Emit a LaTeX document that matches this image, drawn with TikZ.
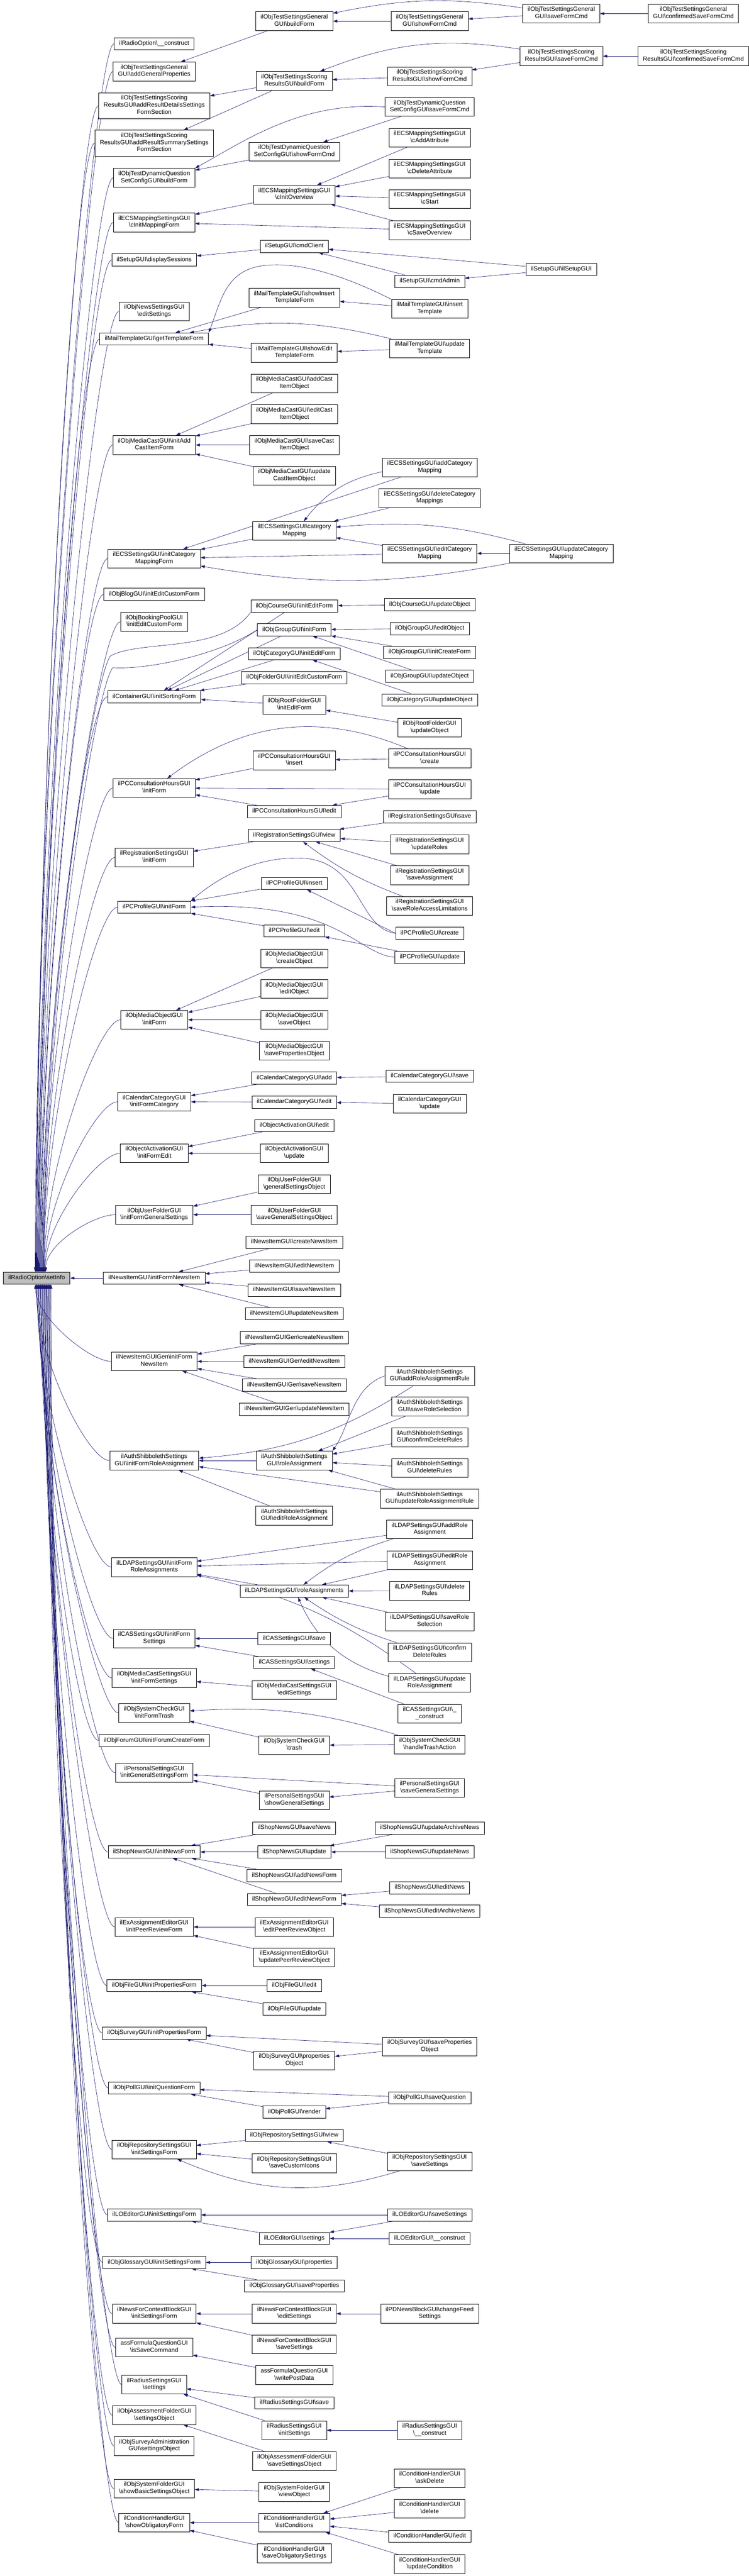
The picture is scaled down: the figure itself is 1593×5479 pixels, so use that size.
\documentclass[tikz,border=0pt]{standalone}
\usepackage{fontspec}
\setmainfont{Liberation Sans}
\usetikzlibrary{arrows.meta}

\definecolor{callblue}{RGB}{25,25,112}
\definecolor{rootgray}{RGB}{191,191,191}
\newcommand{\bsl}{\textbackslash}
\newcommand{\brk}{\hfill\\}
\pgfdeclarelayer{edges}
\pgfsetlayers{edges,main}

\begin{document}
\begin{tikzpicture}
[x=1pt,y=-1pt,->,>={Triangle[length=9pt,width=6pt]},
 every node/.style={rectangle,draw=black,fill=white,line width=0.8pt,align=center,
   font=\fontsize{13}{15}\selectfont,inner xsep=10.5pt,inner ysep=5.5pt,
   execute at begin node=\strut,execute at end node=\strut},
 rootfn/.style={fill=rootgray},
 call/.style={draw=callblue,line width=0.7pt}]
\useasboundingbox (0,0) rectangle (1593,5479);

  \node[rootfn] (root) at (78,2718.5) {ilRadioOption\bsl{}setInfo};

  \node (c1a)  at (328,93)     {ilRadioOption\bsl\_\_construct};
  \node (c1b)  at (328,152)    {ilObjTestSettingsGeneral\brk GUI\bsl{}addGeneralProperties};
  \node (c1c)  at (328,225)    {ilObjTestSettingsScoring\brk ResultsGUI\bsl{}addResultDetailsSettings\\FormSection};
  \node (c1d)  at (328,304.5)  {ilObjTestSettingsScoring\brk ResultsGUI\bsl{}addResultSummarySettings\\FormSection};
  \node (c1e)  at (328,378)    {ilObjTestDynamicQuestion\brk SetConfigGUI\bsl{}buildForm};
  \node (c1f)  at (328,473)    {ilECSMappingSettingsGUI\brk\bsl{}cInitMappingForm};
  \node (c1g)  at (328,553)    {ilSetupGUI\bsl{}displaySessions};
  \node (c1h)  at (328,662.5)  {ilObjNewsSettingsGUI\brk\bsl{}editSettings};
  \node (c1i)  at (328,721)    {ilMailTemplateGUI\bsl{}getTemplateForm};
  \node (c1j)  at (328,946.5)  {ilObjMediaCastGUI\bsl{}initAdd\brk CastItemForm};
  \node (c1k)  at (328,1188)   {ilECSSettingsGUI\bsl{}initCategory\brk MappingForm};
  \node (c1l)  at (328,1264)   {ilObjBlogGUI\bsl{}initEditCustomForm};
  \node (c1m)  at (328,1322.5) {ilObjBookingPoolGUI\brk\bsl{}initEditCustomForm};
  \node (c1n)  at (328,1482)   {ilContainerGUI\bsl{}initSortingForm};
  \node (c1o)  at (328,1676)   {ilPCConsultationHoursGUI\brk\bsl{}initForm};
  \node (c1p)  at (328,1823.5) {ilRegistrationSettingsGUI\brk\bsl{}initForm};
  \node (c1q)  at (328,1929.5) {ilPCProfileGUI\bsl{}initForm};
  \node (c1r)  at (328,2169)   {ilObjMediaObjectGUI\brk\bsl{}initForm};
  \node (c1s)  at (328,2343.5) {ilCalendarCategoryGUI\brk\bsl{}initFormCategory};
  \node (c1t)  at (328,2453)   {ilObjectActivationGUI\brk\bsl{}initFormEdit};
  \node (c1u)  at (328,2583.5) {ilObjUserFolderGUI\brk\bsl{}initFormGeneralSettings};
  \node (c1v)  at (328,2718.5) {ilNewsItemGUI\bsl{}initFormNewsItem};
  \node (c1w)  at (328,2895.5) {ilNewsItemGUIGen\bsl{}initForm\brk NewsItem};
  \node (c1x)  at (328,3106.5) {ilAuthShibbolethSettings\brk GUI\bsl{}initFormRoleAssignment};
  \node (c1y)  at (328,3333)   {ilLDAPSettingsGUI\bsl{}initForm\brk RoleAssignments};
  \node (c1z)  at (328,3485)   {ilCASSettingsGUI\bsl{}initForm\brk Settings};
  \node (c1aa) at (328,3569)   {ilObjMediaCastSettingsGUI\brk\bsl{}initFormSettings};
  \node (c1ab) at (328,3643.5) {ilObjSystemCheckGUI\brk\bsl{}initFormTrash};
  \node (c1ac) at (328,3702)   {ilObjForumGUI\bsl{}initForumCreateForm};
  \node (c1ad) at (328,3770.5) {ilPersonalSettingsGUI\brk\bsl{}initGeneralSettingsForm};
  \node (c1ae) at (328,3939)   {ilShopNewsGUI\bsl{}initNewsForm};
  \node (c1af) at (328,4098.5) {ilExAssignmentEditorGUI\brk\bsl{}initPeerReviewForm};
  \node (c1ag) at (328,4223)   {ilObjFileGUI\bsl{}initPropertiesForm};
  \node (c1ah) at (328,4324)   {ilObjSurveyGUI\bsl{}initPropertiesForm};
  \node (c1ai) at (328,4441)   {ilObjPollGUI\bsl{}initQuestionForm};
  \node (c1aj) at (328,4572)   {ilObjRepositorySettingsGUI\brk\bsl{}initSettingsForm};
  \node (c1ak) at (328,4711)   {ilLOEditorGUI\bsl{}initSettingsForm};
  \node (c1al) at (328,4812)   {ilObjGlossaryGUI\bsl{}initSettingsForm};
  \node (c1am) at (328,4921)   {ilNewsForContextBlockGUI\brk\bsl{}initSettingsForm};
  \node (c1an) at (328,4993)   {assFormulaQuestionGUI\brk\bsl{}isSaveCommand};
  \node (c1ao) at (328,5072)   {ilRadiusSettingsGUI\brk\bsl{}settings};
  \node (c1ap) at (328,5137)   {ilObjAssessmentFolderGUI\brk\bsl{}settingsObject};
  \node (c1aq) at (328,5202.5) {ilObjSurveyAdministration\brk GUI\bsl{}settingsObject};
  \node (c1ar) at (328,5293)   {ilObjSystemFolderGUI\brk\bsl{}showBasicSettingsObject};
  \node (c1as) at (328,5365.5) {ilConditionHandlerGUI\brk\bsl{}showObligatoryForm};

  \node (c2a)  at (626,45)     {ilObjTestSettingsGeneral\brk GUI\bsl{}buildForm};
  \node (c2b)  at (626,172)    {ilObjTestSettingsScoring\brk ResultsGUI\bsl{}buildForm};
  \node (c2c)  at (626,322.5)  {ilObjTestDynamicQuestion\brk SetConfigGUI\bsl{}showFormCmd};
  \node (c2d)  at (626,414)    {ilECSMappingSettingsGUI\brk\bsl{}cInitOverview};
  \node (c2e)  at (626,524)    {ilSetupGUI\bsl{}cmdClient};
  \node (c2f)  at (626,633)    {ilMailTemplateGUI\bsl{}showInsert\brk TemplateForm};
  \node (c2g)  at (626,750.5)  {ilMailTemplateGUI\bsl{}showEdit\brk TemplateForm};
  \node (c2h)  at (626,815.5)  {ilObjMediaCastGUI\bsl{}addCast\brk ItemObject};
  \node (c2i)  at (626,881)    {ilObjMediaCastGUI\bsl{}editCast\brk ItemObject};
  \node (c2j)  at (626,946.5)  {ilObjMediaCastGUI\bsl{}saveCast\brk ItemObject};
  \node (c2k)  at (626,1011.5) {ilObjMediaCastGUI\bsl{}update\brk CastItemObject};
  \node (c2l)  at (626,1129)   {ilECSSettingsGUI\bsl{}category\brk Mapping};
  \node (c2m)  at (626,1289)   {ilObjCourseGUI\bsl{}initEditForm};
  \node (c2n)  at (626,1339.5) {ilObjGroupGUI\bsl{}initForm};
  \node (c2o)  at (626,1390.5) {ilObjCategoryGUI\bsl{}initEditForm};
  \node (c2p)  at (626,1441)   {ilObjFolderGUI\bsl{}initEditCustomForm};
  \node (c2q)  at (626,1499.5) {ilObjRootFolderGUI\brk\bsl{}initEditForm};
  \node (c2r)  at (626,1617)   {ilPCConsultationHoursGUI\brk\bsl{}insert};
  \node (c2s)  at (626,1726)   {ilPCConsultationHoursGUI\bsl{}edit};
  \node (c2t)  at (626,1777)   {ilRegistrationSettingsGUI\bsl{}view};
  \node (c2u)  at (626,1879)   {ilPCProfileGUI\bsl{}insert};
  \node (c2v)  at (626,1980)   {ilPCProfileGUI\bsl{}edit};
  \node (c2w)  at (626,2038.5) {ilObjMediaObjectGUI\brk\bsl{}createObject};
  \node (c2x)  at (626,2103.5) {ilObjMediaObjectGUI\brk\bsl{}editObject};
  \node (c2y)  at (626,2169)   {ilObjMediaObjectGUI\brk\bsl{}saveObject};
  \node (c2z)  at (626,2234.5) {ilObjMediaObjectGUI\brk\bsl{}savePropertiesObject};
  \node (c2aa) at (626,2293)   {ilCalendarCategoryGUI\bsl{}add};
  \node (c2ab) at (626,2344)   {ilCalendarCategoryGUI\bsl{}edit};
  \node (c2ac) at (626,2394)   {ilObjectActivationGUI\bsl{}edit};
  \node (c2ad) at (626,2453)   {ilObjectActivationGUI\brk\bsl{}update};
  \node (c2ae) at (626,2518.5) {ilObjUserFolderGUI\brk\bsl{}generalSettingsObject};
  \node (c2af) at (626,2583.5) {ilObjUserFolderGUI\brk\bsl{}saveGeneralSettingsObject};
  \node (c2ag) at (626,2642)   {ilNewsItemGUI\bsl{}createNewsItem};
  \node (c2ah) at (626,2693)   {ilNewsItemGUI\bsl{}editNewsItem};
  \node (c2ai) at (626,2744)   {ilNewsItemGUI\bsl{}saveNewsItem};
  \node (c2aj) at (626,2794)   {ilNewsItemGUI\bsl{}updateNewsItem};
  \node (c2ak) at (626,2845)   {ilNewsItemGUIGen\bsl{}createNewsItem};
  \node (c2al) at (626,2896)   {ilNewsItemGUIGen\bsl{}editNewsItem};
  \node (c2am) at (626,2946)   {ilNewsItemGUIGen\bsl{}saveNewsItem};
  \node (c2an) at (626,2997)   {ilNewsItemGUIGen\bsl{}updateNewsItem};
  \node (c2ao) at (626,3106.5) {ilAuthShibbolethSettings\brk GUI\bsl{}roleAssignment};
  \node (c2ap) at (626,3223.5) {ilAuthShibbolethSettings\brk GUI\bsl{}editRoleAssignment};
  \node (c2aq) at (626,3384)   {ilLDAPSettingsGUI\bsl{}roleAssignments};
  \node (c2ar) at (626,3485)   {ilCASSettingsGUI\bsl{}save};
  \node (c2as) at (626,3536)   {ilCASSettingsGUI\bsl{}settings};
  \node (c2at) at (626,3594.5) {ilObjMediaCastSettingsGUI\brk\bsl{}editSettings};
  \node (c2au) at (626,3712)   {ilObjSystemCheckGUI\brk\bsl{}trash};
  \node (c2av) at (626,3829)   {ilPersonalSettingsGUI\brk\bsl{}showGeneralSettings};
  \node (c2aw) at (626,3888)   {ilShopNewsGUI\bsl{}saveNews};
  \node (c2ax) at (626,3939)   {ilShopNewsGUI\bsl{}update};
  \node (c2ay) at (626,3989)   {ilShopNewsGUI\bsl{}addNewsForm};
  \node (c2az) at (626,4040)   {ilShopNewsGUI\bsl{}editNewsForm};
  \node (c2ba) at (626,4098.5) {ilExAssignmentEditorGUI\brk\bsl{}editPeerReviewObject};
  \node (c2bb) at (626,4163.5) {ilExAssignmentEditorGUI\brk\bsl{}updatePeerReviewObject};
  \node (c2bc) at (626,4223)   {ilObjFileGUI\bsl{}edit};
  \node (c2bd) at (626,4273)   {ilObjFileGUI\bsl{}update};
  \node (c2be) at (626,4382.5) {ilObjSurveyGUI\bsl{}properties\brk Object};
  \node (c2bf) at (626,4492)   {ilObjPollGUI\bsl{}render};
  \node (c2bg) at (626,4542)   {ilObjRepositorySettingsGUI\bsl{}view};
  \node (c2bh) at (626,4601)   {ilObjRepositorySettingsGUI\brk\bsl{}saveCustomIcons};
  \node (c2bi) at (626,4761)   {ilLOEditorGUI\bsl{}settings};
  \node (c2bj) at (626,4812)   {ilObjGlossaryGUI\bsl{}properties};
  \node (c2bk) at (626,4862)   {ilObjGlossaryGUI\bsl{}saveProperties};
  \node (c2bl) at (626,4921)   {ilNewsForContextBlockGUI\brk\bsl{}editSettings};
  \node (c2bm) at (626,4986.5) {ilNewsForContextBlockGUI\brk\bsl{}saveSettings};
  \node (c2bn) at (626,5051.5) {assFormulaQuestionGUI\brk\bsl{}writePostData};
  \node (c2bo) at (626,5110.5) {ilRadiusSettingsGUI\bsl{}save};
  \node (c2bp) at (626,5169)   {ilRadiusSettingsGUI\brk\bsl{}initSettings};
  \node (c2bq) at (626,5234.5) {ilObjAssessmentFolderGUI\brk\bsl{}saveSettingsObject};
  \node (c2br) at (626,5300)   {ilObjSystemFolderGUI\brk\bsl{}viewObject};
  \node (c2bs) at (626,5365.5) {ilConditionHandlerGUI\brk\bsl{}listConditions};
  \node (c2bt) at (626,5430.5) {ilConditionHandlerGUI\brk\bsl{}saveObligatorySettings};

  \node (c3a)  at (914,45)     {ilObjTestSettingsGeneral\brk GUI\bsl{}showFormCmd};
  \node (c3b)  at (914,162.5)  {ilObjTestSettingsScoring\brk ResultsGUI\bsl{}showFormCmd};
  \node (c3c)  at (914,227.5)  {ilObjTestDynamicQuestion\brk SetConfigGUI\bsl{}saveFormCmd};
  \node (c3d)  at (914,293)    {ilECSMappingSettingsGUI\brk\bsl{}cAddAttribute};
  \node (c3e)  at (914,358.5)  {ilECSMappingSettingsGUI\brk\bsl{}cDeleteAttribute};
  \node (c3f)  at (914,423.5)  {ilECSMappingSettingsGUI\brk\bsl{}cStart};
  \node (c3g)  at (914,489.5)  {ilECSMappingSettingsGUI\brk\bsl{}cSaveOverview};
  \node (c3h)  at (914,598.5)  {ilSetupGUI\bsl{}cmdAdmin};
  \node (c3i)  at (914,657)    {ilMailTemplateGUI\bsl{}insert\brk Template};
  \node (c3j)  at (914,741)    {ilMailTemplateGUI\bsl{}update\brk Template};
  \node (c3k)  at (914,994.5)  {ilECSSettingsGUI\bsl{}addCategory\brk Mapping};
  \node (c3l)  at (914,1059.5) {ilECSSettingsGUI\bsl{}deleteCategory\brk Mappings};
  \node (c3m)  at (914,1177)   {ilECSSettingsGUI\bsl{}editCategory\brk Mapping};
  \node (c3n)  at (914,1286)   {ilObjCourseGUI\bsl{}updateObject};
  \node (c3o)  at (914,1337)   {ilObjGroupGUI\bsl{}editObject};
  \node (c3p)  at (914,1387.5) {ilObjGroupGUI\bsl{}initCreateForm};
  \node (c3q)  at (914,1438)   {ilObjGroupGUI\bsl{}updateObject};
  \node (c3r)  at (914,1489)   {ilObjCategoryGUI\bsl{}updateObject};
  \node (c3s)  at (914,1547.5) {ilObjRootFolderGUI\brk\bsl{}updateObject};
  \node (c3t)  at (914,1613)   {ilPCConsultationHoursGUI\brk\bsl{}create};
  \node (c3u)  at (914,1678.5) {ilPCConsultationHoursGUI\brk\bsl{}update};
  \node (c3v)  at (914,1737)   {ilRegistrationSettingsGUI\bsl{}save};
  \node (c3w)  at (914,1796)   {ilRegistrationSettingsGUI\brk\bsl{}updateRoles};
  \node (c3x)  at (914,1861.5) {ilRegistrationSettingsGUI\brk\bsl{}saveAssignment};
  \node (c3y)  at (914,1926.5) {ilRegistrationSettingsGUI\brk\bsl{}saveRoleAccessLimitations};
  \node (c3z)  at (914,1985)   {ilPCProfileGUI\bsl{}create};
  \node (c3aa) at (914,2036)   {ilPCProfileGUI\bsl{}update};
  \node (c3ab) at (914,2289)   {ilCalendarCategoryGUI\bsl{}save};
  \node (c3ac) at (914,2347.5) {ilCalendarCategoryGUI\brk\bsl{}update};
  \node (c3ad) at (914,2926.5) {ilAuthShibbolethSettings\brk GUI\bsl{}addRoleAssignmentRule};
  \node (c3ae) at (914,2991.5) {ilAuthShibbolethSettings\brk GUI\bsl{}saveRoleSelection};
  \node (c3af) at (914,3057)   {ilAuthShibbolethSettings\brk GUI\bsl{}confirmDeleteRules};
  \node (c3ag) at (914,3122.5) {ilAuthShibbolethSettings\brk GUI\bsl{}deleteRules};
  \node (c3ah) at (914,3187.5) {ilAuthShibbolethSettings\brk GUI\bsl{}updateRoleAssignmentRule};
  \node (c3ai) at (914,3253)   {ilLDAPSettingsGUI\bsl{}addRole\brk Assignment};
  \node (c3aj) at (914,3318.5) {ilLDAPSettingsGUI\bsl{}editRole\brk Assignment};
  \node (c3ak) at (914,3383.5) {ilLDAPSettingsGUI\bsl{}delete\brk Rules};
  \node (c3al) at (914,3449)   {ilLDAPSettingsGUI\bsl{}saveRole\brk Selection};
  \node (c3am) at (914,3514.5) {ilLDAPSettingsGUI\bsl{}confirm\brk DeleteRules};
  \node (c3an) at (914,3579.5) {ilLDAPSettingsGUI\bsl{}update\brk RoleAssignment};
  \node (c3ao) at (914,3645)   {ilCASSettingsGUI\bsl\_\brk\_construct};
  \node (c3ap) at (914,3710.5) {ilObjSystemCheckGUI\brk\bsl{}handleTrashAction};
  \node (c3aq) at (914,3802.5) {ilPersonalSettingsGUI\brk\bsl{}saveGeneralSettings};
  \node (c3ar) at (914,3888)   {ilShopNewsGUI\bsl{}updateArchiveNews};
  \node (c3as) at (914,3939)   {ilShopNewsGUI\bsl{}updateNews};
  \node (c3at) at (914,4015)   {ilShopNewsGUI\bsl{}editNews};
  \node (c3au) at (914,4065)   {ilShopNewsGUI\bsl{}editArchiveNews};
  \node (c3av) at (914,4353)   {ilObjSurveyGUI\bsl{}saveProperties\brk Object};
  \node (c3aw) at (914,4462)   {ilObjPollGUI\bsl{}saveQuestion};
  \node (c3ax) at (914,4597)   {ilObjRepositorySettingsGUI\brk\bsl{}saveSettings};
  \node (c3ay) at (914,4711)   {ilLOEditorGUI\bsl{}saveSettings};
  \node (c3az) at (914,4761)   {ilLOEditorGUI\bsl\_\_construct};
  \node (c3ba) at (914,4921)   {ilPDNewsBlockGUI\bsl{}changeFeed\brk Settings};
  \node (c3bb) at (914,5169)   {ilRadiusSettingsGUI\brk\bsl\_\_construct};
  \node (c3bc) at (914,5271)   {ilConditionHandlerGUI\brk\bsl{}askDelete};
  \node (c3bd) at (914,5336)   {ilConditionHandlerGUI\brk\bsl{}delete};
  \node (c3be) at (914,5394.5) {ilConditionHandlerGUI\bsl{}edit};
  \node (c3bf) at (914,5453.5) {ilConditionHandlerGUI\brk\bsl{}updateCondition};

  \node (c4a)  at (1194,29)    {ilObjTestSettingsGeneral\brk GUI\bsl{}saveFormCmd};
  \node (c4b)  at (1194,119.5) {ilObjTestSettingsScoring\brk ResultsGUI\bsl{}saveFormCmd};
  \node (c4c)  at (1194,573)   {ilSetupGUI\bsl{}ilSetupGUI};
  \node (c4d)  at (1194,1177)  {ilECSSettingsGUI\bsl{}updateCategory\brk Mapping};

  \node (c5a)  at (1475,29)    {ilObjTestSettingsGeneral\brk GUI\bsl{}confirmedSaveFormCmd};
  \node (c5b)  at (1475,119.5) {ilObjTestSettingsScoring\brk ResultsGUI\bsl{}confirmedSaveFormCmd};

\begin{pgfonlayer}{edges}
  \foreach \from/\to in {c5a/c4a,c4a/c3a,c3a/c2a,c2a/c1b,
      c5b/c4b,c4b/c3b,c3b/c2b,c2b/c1c,c2b/c1d,c3c/c2c,c2c/c1e,
      c3d/c2d,c3e/c2d,c3f/c2d,c3g/c2d,c2d/c1f,c3g/c1f,
      c2e/c1g,c4c/c2e,c3h/c2e,c4c/c3h,c2f/c1i,c3i/c2f,c2g/c1i,c3j/c2g,
      c2h/c1j,c2i/c1j,c2j/c1j,c2k/c1j,
      c3k/c1k,c3l/c2l,c2l/c1k,c3m/c2l,c3m/c1k,c4d/c3m,
      c3n/c2m,c2m/c1n,c3o/c2n,c3p/c2n,c3q/c2n,c3r/c2o,c2n/c1n,c2o/c1n,c2p/c1n,c2q/c1n,c3s/c2q,
      c2r/c1o,c3t/c2r,c3u/c1o,c3u/c2s,c2s/c1o,
      c3v/c2t,c3w/c2t,c3x/c2t,c2t/c1p,
      c2u/c1q,c2v/c1q,c3z.west/c2u,c3aa/c2v,
      c2w/c1r,c2x/c1r,c2y/c1r,c2z/c1r,
      c3ab/c2aa,c2aa/c1s,c2ab/c1s,c3ac/c2ab,c2ac/c1t,c2ad/c1t,c2ae/c1u,c2af/c1u,
      c2ag/c1v,c2ah/c1v,c2ai/c1v,c2aj/c1v,c1v/root,
      c2ak/c1w,c2al/c1w,c2am/c1w,c2an/c1w,
      c3ae/c2ao,c3af/c2ao,c3ag/c2ao,c3ah/c2ao,c3ah/c1x,c2ao/c1x,c2ap/c1x,
      c3ai/c1y,c3aj/c1y,c3aj/c2aq,c2aq/c1y,c3ak/c2aq,c3al/c2aq,
      c2ar/c1z,c2as/c1z,c3ao/c2as,c2at/c1aa,c2au/c1ab,c3ap/c2au,
      c3aq/c1ad,c2av/c1ad,c3aq/c2av,
      c2aw/c1ae,c2ax/c1ae,c3ar/c2ax,c3as/c2ax,c2ay/c1ae,c2az/c1ae,c3at/c2az,c3au/c2az,
      c2ba/c1af,c2bb/c1af,c2bc/c1ag,c2bd/c1ag,
      c3av/c1ah,c2be/c1ah,c3av/c2be,c3aw/c1ai,c2bf/c1ai,c3aw/c2bf,
      c2bg/c1aj,c2bh/c1aj,c3ax/c2bg,
      c3ay/c1ak,c3ay/c2bi,c2bi/c1ak,c3az/c2bi,
      c2bj/c1al,c2bk/c1al,c2bl/c1am,c3ba/c2bl,c2bm/c1am,c2bn/c1an,
      c2bo/c1ao,c2bp/c1ao,c3bb/c2bp,c2bq/c1ap,c2br/c1ar,
      c2bs/c1as,c2bt/c1as,c3bc/c2bs,c3bd/c2bs,c3be/c2bs,c3bf/c2bs}
    \draw[call] (\from) -- (\to);

  \foreach \from/\to/\b in {c4a/c2a/10,c4b/c2b/15,c3j/c1i/12,c4d/c2l/10,c3t/c1o/30,
      c3k/c2l/20,c3ai/c2aq/10,c3an/c1y/12,c3ap/c1ab/10}
    \draw[call] (\from) to[bend right=\b] (\to);

  \foreach \from/\to/\b in {c4d/c1k/10,c3ad/c1x/14,c3y/c2t/8,c3am/c2aq/8,c3an/c2aq/25,c3ax/c1aj/20}
    \draw[call] (\from) to[bend left=\b] (\to);

  \draw[call] (c3c.west) .. controls (640,215) and (520,300) .. (c1e.north east);
  \draw[call] (c3i.north west) .. controls (740,590) and (640,555) .. (560,565)
    .. controls (480,575) and (470,640) .. (c1i.north east);
  \draw[call] (c3z.west) .. controls (760,1975) and (770,1830) .. (640,1825)
    .. controls (540,1822) and (460,1870) .. (c1q.north east);
  \draw[call] (c3aa.west) .. controls (760,2030) and (720,1915) .. (c1q.east);
  \draw[call] (c3ad.west) .. controls (750,2950) and (745,3030) .. (c2ao.north east);
  \draw[call] (c2m.south west) .. controls (470,1390) and (300,1360) .. (235,1395)
    .. controls (195,1450) and +(0,-560) .. ([xshift=14]root.north);
  \draw[call] (c2n.west) .. controls (470,1390) and (320,1425) .. (240,1420)
    .. controls (200,1470) and +(0,-550) .. ([xshift=16]root.north);

  \foreach \n/\d [count=\i] in {c1a/1097,c1b/1073,c1c/1042,c1d/1009,c1e/978,c1f/938,
      c1g/904,c1h/858,c1i/834,c1j/739,c1k/638,c1l/606,c1m/581,c1n/514,c1o/433,
      c1p/371,c1q/326,c1r/226,c1s/152,c1t/106,c1u/60}
    \draw[call] (\n.west) .. controls +(-45,0) and +(0,-\d) .. ([xshift={\i*1.1-4}]root.north);

  \foreach \n/\d [count=\i] in {c1w/69,c1x/158,c1y/253,c1z/317,c1aa/352,c1ab/383,
      c1ac/408,c1ad/437,c1ae/507,c1af/574,c1ag/627,c1ah/669,c1ai/718,c1aj/773,
      c1ak/832,c1al/874,c1am/920,c1an/950,c1ao/983,c1ap/1011,c1aq/1038,c1ar/1076,c1as/1107}
    \draw[call] (\n.west) .. controls +(-45,0) and +(0,\d) .. ([xshift={\i*1.5-4}]root.south);
\end{pgfonlayer}

\end{tikzpicture}
\end{document}
